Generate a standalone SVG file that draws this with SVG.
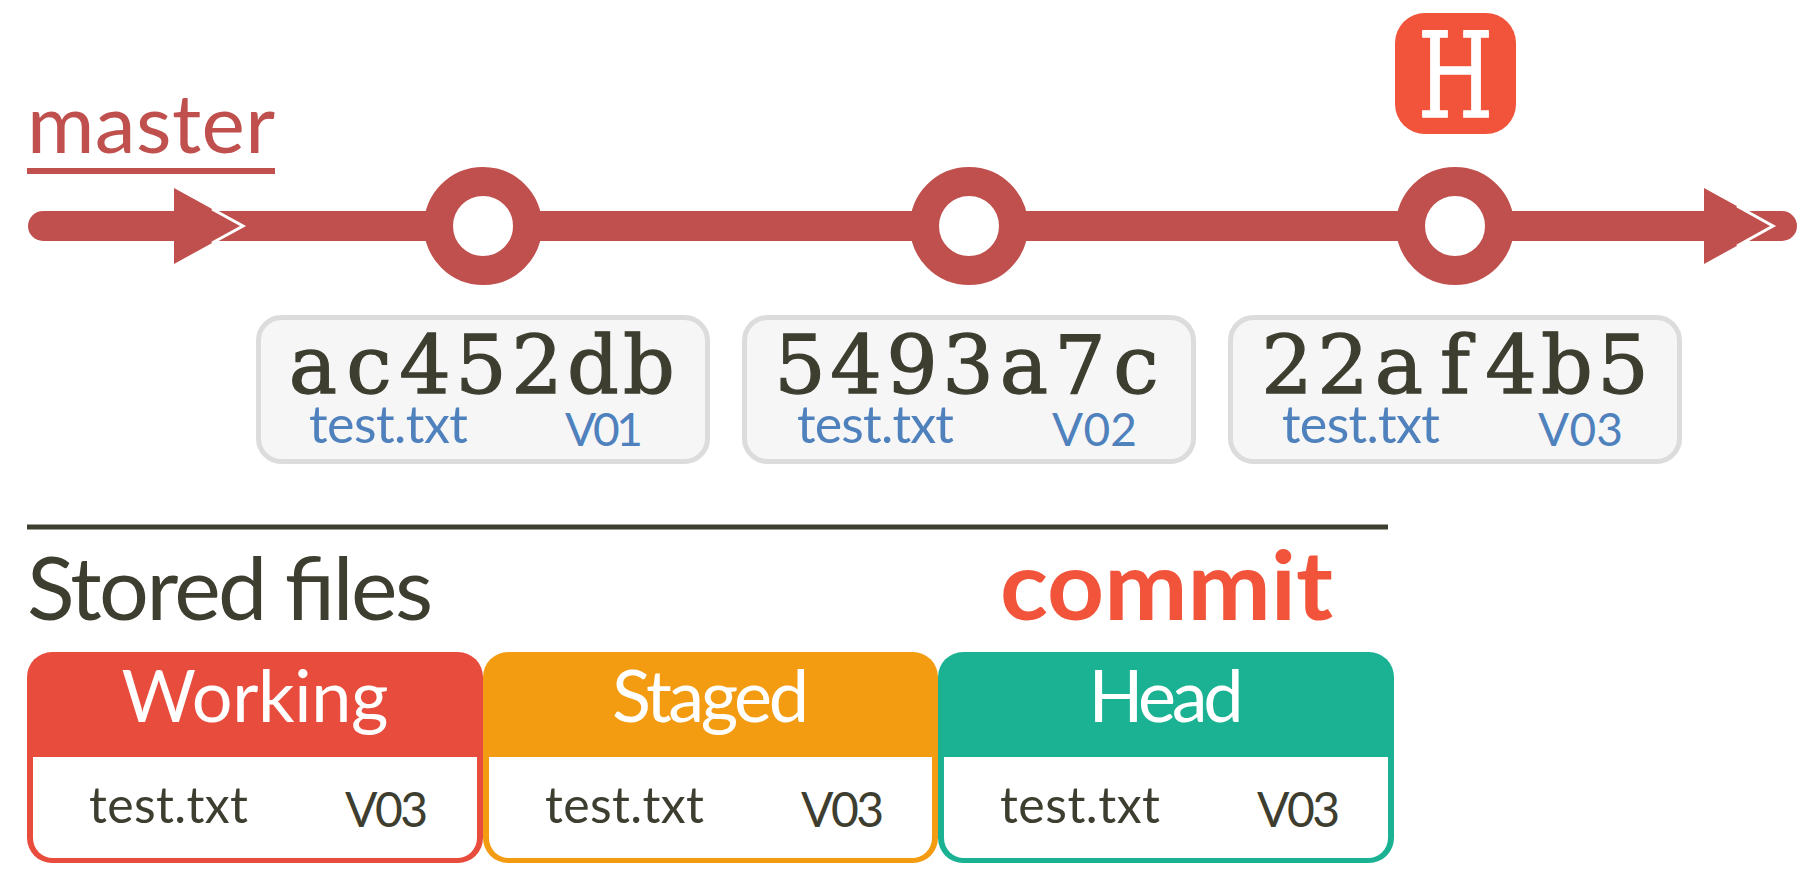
<svg xmlns="http://www.w3.org/2000/svg" width="1816" height="892" viewBox="0 0 1816 892">
<style>
.hash{font-family:"DejaVu Serif","Liberation Serif",serif;font-size:81px;fill:#3e3e30;stroke:#3e3e30;stroke-width:1.3;text-anchor:middle}
.blue{font-family:Lato,"Open Sans",sans-serif;fill:#4f81bd}
.dark{font-family:Lato,"Open Sans",sans-serif;fill:#3e3e30}
.hdr{font-family:Lato,"Open Sans",sans-serif;font-size:72px;fill:#ffffff;text-anchor:middle}
.cbox{fill:#f6f6f6;stroke:#dcdcdc;stroke-width:5}
.ring{fill:#ffffff;stroke:#c0504d;stroke-width:29}
</style>
<rect width="1816" height="892" fill="#ffffff"/>

<g id="master-label">
<text x="27" y="153" font-family="Lato,'Open Sans',sans-serif" font-size="82" fill="#c0504d" textLength="248">master</text>
<rect x="27" y="168" width="248" height="6" fill="#c0504d"/>
</g>

<g id="connectors">
<line x1="43" y1="226" x2="1782" y2="226" stroke="#c0504d" stroke-width="30" stroke-linecap="round"/>
<polygon points="174,188 243,226 174,264" fill="#c0504d"/>
<polyline points="212,209 243,226 212,243" fill="none" stroke="#ffffff" stroke-width="3"/>
<polygon points="1704,188 1773,226 1704,264" fill="#c0504d"/>
<polyline points="1737,206 1773,226 1737,246" fill="none" stroke="#ffffff" stroke-width="3"/>
</g>

<g id="commit1">
<circle class="ring" cx="483" cy="226" r="44.5"/>
<rect class="cbox" x="258.5" y="317.5" width="449" height="144" rx="23"/>
<text class="hash" x="313 369 425 481 537 593 649" y="393">ac452db</text>
<text class="blue" x="309" y="443" font-size="52" textLength="159">test.txt</text>
<text class="blue" x="565" y="446" font-size="46" textLength="78">V01</text>
</g>

<g id="commit2">
<circle class="ring" cx="969" cy="226" r="44.5"/>
<rect class="cbox" x="744.5" y="317.5" width="449" height="144" rx="23"/>
<text class="hash" x="800 856 912 968 1024 1080 1136" y="393">5493a7c</text>
<text class="blue" x="797" y="443" font-size="52" textLength="157">test.txt</text>
<text class="blue" x="1052" y="446" font-size="46" textLength="85">V02</text>
</g>

<g id="commit3">
<circle class="ring" cx="1455" cy="226" r="44.5"/>
<rect class="cbox" x="1230.5" y="317.5" width="449" height="144" rx="23"/>
<text class="hash" x="1287 1343 1399 1455 1511 1567 1623" y="393">22af4b5</text>
<text class="blue" x="1282" y="443" font-size="52" textLength="158">test.txt</text>
<text class="blue" x="1538" y="446" font-size="46" textLength="85">V03</text>
</g>

<g id="head-marker">
<rect x="1395" y="13" width="121" height="121" rx="30" fill="#f1543a"/>
<text x="1418" y="117" font-family="'DejaVu Serif','Liberation Serif',serif" font-size="117" fill="#ffffff" stroke="#ffffff" stroke-width="1.5" textLength="75" lengthAdjust="spacingAndGlyphs">H</text>
</g>

<g id="separator">
<line x1="27" y1="527" x2="1388" y2="527" stroke="#3e3e30" stroke-width="5"/>
</g>

<g id="titles">
<text class="dark" x="27" y="620" font-size="88" textLength="406">Stored files</text>
<text x="1000" y="620" font-family="Lato,'Open Sans',sans-serif" font-weight="bold" font-size="96" fill="#f1543a" textLength="333" lengthAdjust="spacingAndGlyphs">commit</text>
</g>

<g id="working">
<path d="M27,677 a25,25 0 0 1 25,-25 h406 a25,25 0 0 1 25,25 v161 a25,25 0 0 1 -25,25 h-406 a25,25 0 0 1 -25,-25 z" fill="#e74c3c"/>
<path d="M33,757 h444 v81 a20,20 0 0 1 -20,20 h-404 a20,20 0 0 1 -20,-20 z" fill="#ffffff"/>
<text class="hdr" x="255" y="722" textLength="267">Working</text>
<text class="dark" x="89" y="823" font-size="50" textLength="159">test.txt</text>
<text class="dark" x="345" y="827" font-size="48" textLength="83">V03</text>
</g>

<g id="staged">
<path d="M483,677 a25,25 0 0 1 25,-25 h405 a25,25 0 0 1 25,25 v161 a25,25 0 0 1 -25,25 h-405 a25,25 0 0 1 -25,-25 z" fill="#f39c12"/>
<path d="M489,757 h443 v81 a20,20 0 0 1 -20,20 h-403 a20,20 0 0 1 -20,-20 z" fill="#ffffff"/>
<text class="hdr" x="710.5" y="722" textLength="197">Staged</text>
<text class="dark" x="545" y="823" font-size="50" textLength="159">test.txt</text>
<text class="dark" x="801" y="827" font-size="48" textLength="83">V03</text>
</g>

<g id="head">
<path d="M938,677 a25,25 0 0 1 25,-25 h406 a25,25 0 0 1 25,25 v161 a25,25 0 0 1 -25,25 h-406 a25,25 0 0 1 -25,-25 z" fill="#1bb294"/>
<path d="M944,757 h444 v81 a20,20 0 0 1 -20,20 h-404 a20,20 0 0 1 -20,-20 z" fill="#ffffff"/>
<text class="hdr" x="1166" y="722" textLength="155">Head</text>
<text class="dark" x="1000" y="823" font-size="50" textLength="160">test.txt</text>
<text class="dark" x="1257" y="827" font-size="48" textLength="83">V03</text>
</g>
</svg>
